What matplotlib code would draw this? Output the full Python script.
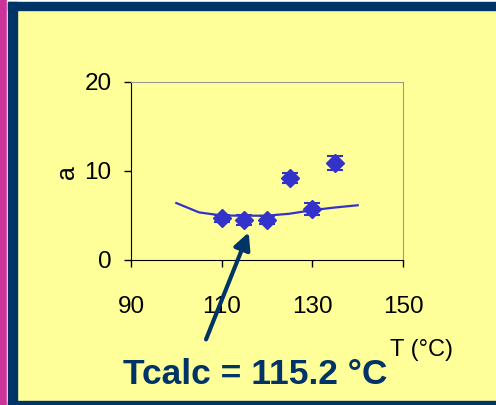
import matplotlib.pyplot as plt
from matplotlib.patches import Rectangle

plt.rcParams['font.family'] = ['Liberation Sans', 'DejaVu Sans']

# measured points
T = [110, 115, 120, 125, 130, 135]
a = [4.7, 4.5, 4.5, 9.2, 5.7, 10.9]
a_err = [0.4, 0.55, 0.45, 0.6, 0.65, 0.75]

# model curve
T_fit = [100, 105, 110, 115, 120, 125, 130, 135, 140]
a_fit = [6.4, 5.35, 5.0, 4.98, 4.98, 5.2, 5.6, 5.9, 6.15]

blue = '#3333cc'
navy = '#003366'

fig = plt.figure(figsize=(4.96, 4.05), dpi=100)
fig.patch.set_facecolor('#ffff99')

# slide frame
W, H = 496, 405
def frame(x, y, w, h, c):
    fig.patches.append(Rectangle((x / W, 1 - (y + h) / H), w / W, h / H,
                                 transform=fig.transFigure, color=c, zorder=0))
frame(0, 0, 496, 2, 'white')
frame(0, 0, 7, 405, '#cc3399')
frame(7, 0, 1, 405, 'white')
frame(8, 2, 488, 8, navy)
frame(8, 2, 9, 403, navy)
frame(8, 401, 488, 4, navy)

ax = fig.add_axes([131 / W, 1 - 260 / H, (403 - 131) / W, (260 - 82) / H])
ax.set_facecolor('#ffff99')
ax.plot(T_fit, a_fit, color=blue, lw=1.6)
ax.errorbar(T, a, yerr=a_err, fmt='D', color=blue, ms=9, capsize=6,
            elinewidth=1.5, capthick=1.5)

ax.set_xlim(90, 150)
ax.set_ylim(0, 20)
ax.set_xticks([90, 110, 130, 150])
ax.set_yticks([0, 10, 20])
ax.tick_params(labelsize=17.5, length=5, width=1)
ax.tick_params(axis='x', pad=21)
ax.tick_params(axis='y', pad=9)
for s in ['top', 'right']:
    ax.spines[s].set_color('#999999')
for s in ['left', 'bottom']:
    ax.spines[s].set_color('black')

fig.text(67 / W, 1 - 172 / H, 'a', rotation=90, fontsize=18, ha='center', va='center')
fig.text(390 / W, 1 - 350 / H, 'T (°C)', fontsize=17, ha='left', va='center')
fig.text(123 / W, 1 - 374 / H, 'Tcalc = 115.2 °C', fontsize=25.5, fontweight='bold',
         color=navy, ha='left', va='center')

ax.annotate('', xy=(116.2, 3.4), xytext=(205, H - 342), xycoords='data',
            textcoords='figure pixels', annotation_clip=False,
            arrowprops=dict(arrowstyle='-|>,head_length=1.0,head_width=0.5',
                            color=navy, lw=3))

fig.savefig('out.png', dpi=100)
